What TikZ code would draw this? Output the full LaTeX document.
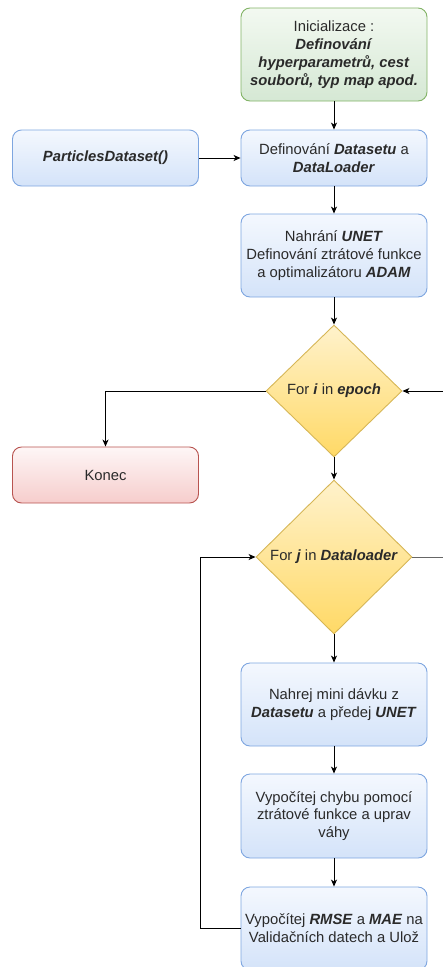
\documentclass[tikz,border=0pt]{standalone}
\usepackage{fontspec}
\setmainfont{Liberation Sans}
\usetikzlibrary{shapes.geometric,arrows.meta}
\definecolor{txt}{HTML}{2A2A2A}
\definecolor{gST}{HTML}{82B366}
\definecolor{gTop}{HTML}{F3F9F1}
\definecolor{gBot}{HTML}{D5E8D4}
\definecolor{bST}{HTML}{7EA6E0}
\definecolor{bTop}{HTML}{F4F8FE}
\definecolor{bBot}{HTML}{D4E3F9}
\definecolor{rST}{HTML}{B85450}
\definecolor{rTop}{HTML}{FEF6F6}
\definecolor{rBot}{HTML}{F6CDCC}
\definecolor{yST}{HTML}{D6B656}
\definecolor{yTop}{HTML}{FFF2CC}
\definecolor{yBot}{HTML}{FFD966}
\newcommand{\bi}[1]{\textbf{\textit{#1}}}
\tikzset{
  base/.style={rounded corners=9pt, line width=0.9pt, align=center, text=txt,
    minimum width=186pt, inner sep=0pt,
    font=\fontsize{14.8}{17.8}\selectfont},
  gbox/.style={base, draw=gST, top color=gTop, bottom color=gBot},
  bbox/.style={base, draw=bST, top color=bTop, bottom color=bBot},
  rbox/.style={base, draw=rST, top color=rTop, bottom color=rBot},
  dec/.style={diamond, draw=yST, line width=0.9pt, top color=yTop, bottom color=yBot,
    inner sep=0pt, align=center, text=txt, font=\fontsize{14.8}{17.8}\selectfont},
  arr/.style={line width=0.9pt, draw=black, -{Stealth[length=7pt,width=6pt,inset=2pt]}},
  ln/.style={line width=0.9pt, draw=black},
}
\begin{document}
\begin{tikzpicture}[x=1pt,y=-1pt]
\useasboundingbox (0,0) rectangle (443,967);
\clip (0,0) rectangle (443,967);
\node[gbox, minimum height=93pt] (init) at (334,54.5)
  {Inicializace :\\ \bi{Definování}\\ \bi{hyperparametrů, cest}\\ \bi{souborů, typ map apod.}};
\node[bbox, minimum height=56pt] (ds) at (334,158)
  {Definování \bi{Datasetu} a\\ \bi{DataLoader}};
\node[bbox, minimum height=56pt] (pd) at (105.5,158) {\bi{ParticlesDataset()}};
\node[bbox, minimum height=83pt] (unet) at (334,255.5)
  {Nahrání \bi{UNET}\\ Definování ztrátové funkce\\ a optimalizátoru \bi{ADAM}};
\node[dec, minimum width=136pt, minimum height=132pt] (d1) at (334,391)
  {For \bi{i} in \bi{epoch}};
\node[rbox, minimum height=56pt] (konec) at (105.5,475) {Konec};
\node[dec, minimum width=156pt, minimum height=154pt] (d2) at (334,557)
  {For \bi{j} in \bi{Dataloader}};
\node[bbox, minimum height=83pt] (b4) at (334,704.5)
  {Nahrej mini dávku z\\ \bi{Datasetu} a předej \bi{UNET}};
\node[bbox, minimum height=84pt] (b5) at (334,816)
  {Vypočítej chybu pomocí\\ ztrátové funkce a uprav\\ váhy};
\node[bbox, minimum height=83pt] (b6) at (334,928.5)
  {Vypočítej \bi{RMSE} a \bi{MAE} na\\ Validačních datech a Ulož};
\coordinate (rin) at (445,391);
\coordinate (rout) at (445,557);
\coordinate (lp) at (200,557);
\draw[arr] (init) -- (ds);
\draw[arr] (pd) -- (ds);
\draw[arr] (ds) -- (unet);
\draw[arr] (unet) -- (d1);
\draw[arr] (rin) -- (d1.east);
\draw[arr] (d1.west) -| (konec.north);
\draw[arr] (d1.south) -- (d2.north);
\draw[ln, draw=black!60] (d2.east) -- (rout);
\draw[arr] (d2.south) -- (b4.north);
\draw[arr] (b4) -- (b5);
\draw[arr] (b5) -- (b6);
\draw[arr] (b6.west) -| (lp) -- (d2.west);
\end{tikzpicture}
\end{document}
